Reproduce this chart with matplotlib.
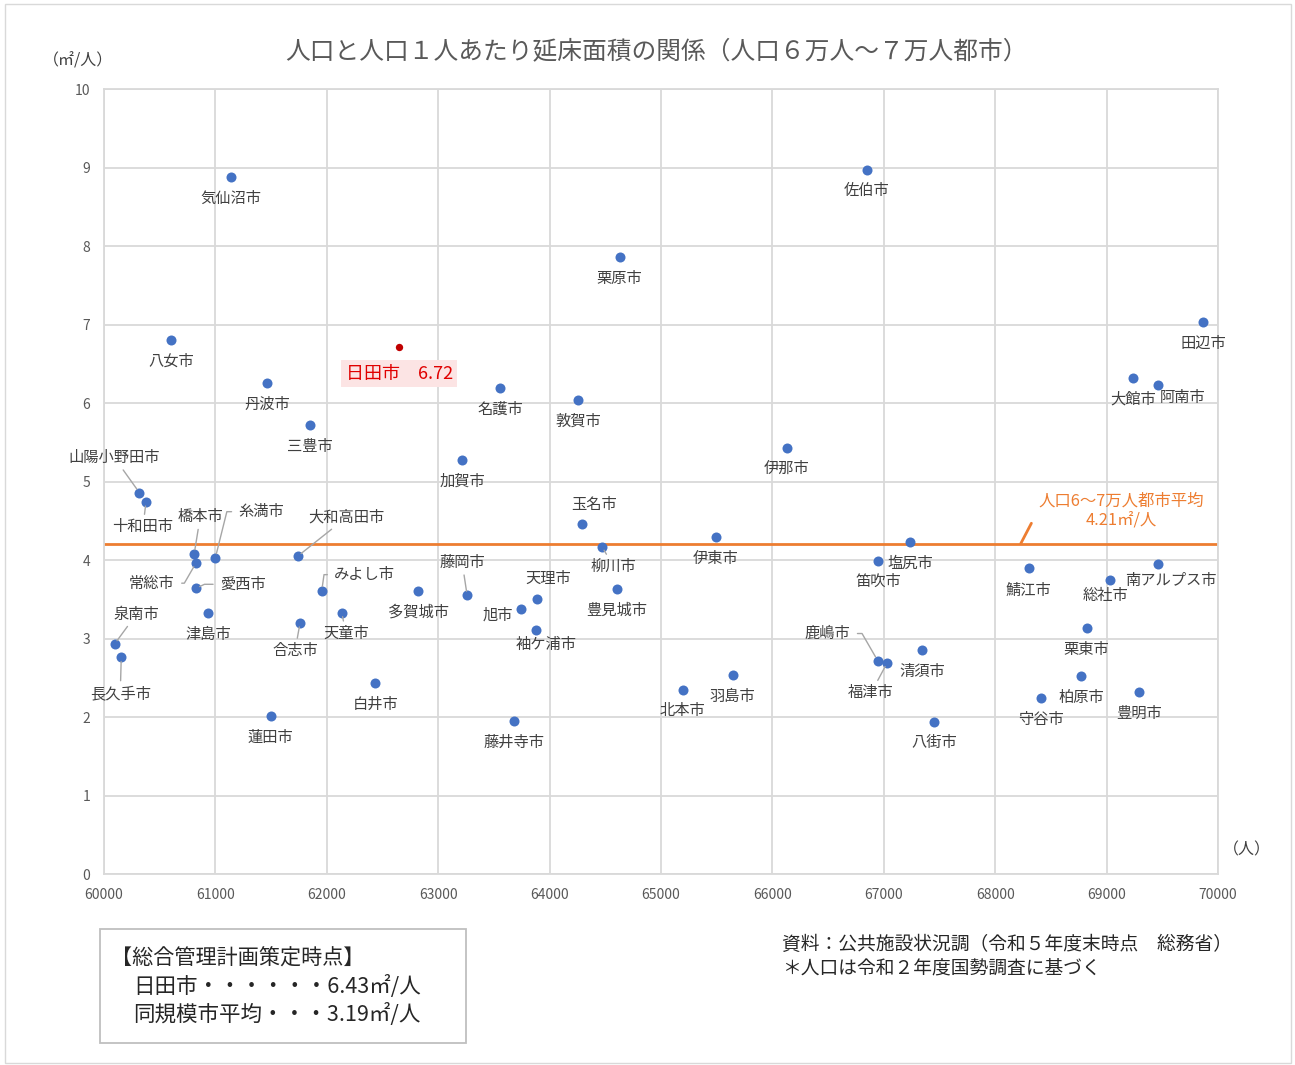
import matplotlib.pyplot as plt
from matplotlib.patches import Rectangle

plt.rcParams['font.family'] = ['Noto Sans CJK JP', 'DejaVu Sans']

# データ（人口, 1人あたり延床面積）
cities = ['気仙沼市', '佐伯市', '栗原市', '田辺市', '八女市', '大館市', '阿南市',
          '丹波市', '名護市', '敦賀市', '三豊市', '伊那市', '加賀市', '山陽小野田市',
          '十和田市', '玉名市', '伊東市', '塩尻市', '柳川市', '橋本市', '糸満市',
          '大和高田市', '常総市', '笛吹市', '鯖江市', '南アルプス市', '総社市', '愛西市',
          'みよし市', '多賀城市', '豊見城市', '藤岡市', '天理市', '旭市', '津島市',
          '天童市', '合志市', '袖ケ浦市', '栗東市', '泉南市', '清須市', '長久手市',
          '鹿嶋市', '福津市', '羽島市', '柏原市', '北本市', '白井市', '豊明市',
          '守谷市', '蓮田市', '藤井寺市', '八街市']
population = [61140, 66850, 64630, 69865, 60600, 69237, 69460,
              61463, 63555, 64255, 61850, 66130, 63215, 60317,
              60377, 64290, 65490, 67240, 64470, 60810, 61000,
              61740, 60825, 66950, 68300, 69460, 69030, 60825,
              61955, 62820, 64605, 63260, 63885, 63745, 60935,
              62135, 61760, 63875, 68820, 60095, 67345, 60155,
              66945, 67030, 65645, 68775, 65195, 62435, 69295,
              68415, 61495, 63685, 67455]
floor_area = [8.88, 8.97, 7.86, 7.03, 6.80, 6.32, 6.23,
              6.25, 6.19, 6.04, 5.72, 5.43, 5.27, 4.86,
              4.74, 4.46, 4.29, 4.23, 4.17, 4.08, 4.03,
              4.05, 3.96, 3.99, 3.90, 3.95, 3.75, 3.64,
              3.61, 3.61, 3.63, 3.55, 3.51, 3.38, 3.32,
              3.33, 3.20, 3.11, 3.13, 2.93, 2.85, 2.76,
              2.72, 2.69, 2.53, 2.52, 2.35, 2.43, 2.32,
              2.24, 2.01, 1.95, 1.94]

hita_pop = 62650
hita_area = 6.72
avg_area = 4.21

x_ticks = [60000, 61000, 62000, 63000, 64000, 65000, 66000, 67000, 68000, 69000, 70000]
y_ticks = [0, 1, 2, 3, 4, 5, 6, 7, 8, 9, 10]

# ラベル位置（ピクセルオフセット）、指定なしは点の下
label_offset = {
    '阿南市': (25, -13), '山陽小野田市': (-25, 35), '十和田市': (-3, -25),
    '玉名市': (12, 19), '柳川市': (12, -20), '橋本市': (6, 37),
    '糸満市': (46, 46), '大和高田市': (49, 39), '常総市': (-44, -20),
    '愛西市': (47, 4), 'みよし市': (43, 16), '藤岡市': (-5, 33),
    '天理市': (11, 20), '旭市': (-23, -6), '天童市': (4, -21),
    '合志市': (-5, -28), '袖ケ浦市': (10, -15), '南アルプス市': (13, -17),
    '総社市': (-4, -16), '泉南市': (22, 30), '長久手市': (-1, -36),
    '鹿嶋市': (-50, 27), '福津市': (-16, -30), '塩尻市': (0, -21),
    '鯖江市': (0, -23),
}
leader = ['山陽小野田市', '十和田市', '橋本市', '大和高田市', '藤岡市', '柳川市',
          '天童市', '合志市', '泉南市', '長久手市', '福津市']
elbow = {'糸満市': 76, '常総市': 60, '愛西市': 25, 'みよし市': 82, '鹿嶋市': -60}

fig = plt.figure(figsize=(12.95, 10.65), dpi=100)
ax = fig.add_axes([0.0803, 0.1793, 0.8602, 0.7371])

grid_c = '#d9d9d9'
ax.set_xlim(60000, 70000)
ax.set_ylim(0, 10)
ax.set_xticks(x_ticks)
ax.set_yticks(y_ticks)
ax.grid(True, color=grid_c, lw=1.3)
ax.set_axisbelow(True)
for s in ax.spines.values():
    s.set_color(grid_c)
    s.set_linewidth(1.3)
ax.tick_params(length=0, labelsize=10, labelcolor='#595959', pad=10)

ax.axhline(avg_area, color='#ED7D31', lw=2, zorder=2)
ax.scatter(population, floor_area, s=52, color='#4472C4', zorder=3, linewidths=0)
ax.scatter([hita_pop], [hita_area], s=28, color='#C00000', zorder=3, linewidths=0)

for name, x, y in zip(cities, population, floor_area):
    dx, dy = label_offset.get(name, (0, -21))
    arrow = None
    if name in leader:
        arrow = dict(arrowstyle='-', color='#a6a6a6', lw=1, shrinkA=1, shrinkB=3)
    elif name in elbow:
        arrow = dict(arrowstyle='-', color='#a6a6a6', lw=1, shrinkA=3, shrinkB=3,
                     connectionstyle=f'angle,angleA=0,angleB={elbow[name]},rad=0')
    ax.annotate(name, (x, y), xytext=(dx, dy), textcoords='offset pixels',
                ha='center', va='center', fontsize=11, color='#404040',
                arrowprops=arrow, zorder=4)

ax.annotate(f'日田市　{hita_area:.2f}', (hita_pop, hita_area), xytext=(0, -27),
            textcoords='offset pixels', ha='center', va='center', fontsize=13,
            color='#E00000', bbox=dict(boxstyle='square,pad=0.25', fc='#FCE4E4', ec='none'))

ax.annotate(f'人口6～7万人都市平均\n{avg_area:.2f}㎡/人', (68230, avg_area),
            xytext=(100, 33), textcoords='offset pixels', ha='center', va='center',
            fontsize=11.8, color='#ED7D31', linespacing=1.1,
            arrowprops=dict(arrowstyle='-', color='#ED7D31', lw=2,
                            relpos=(0, 0.5), shrinkA=6, shrinkB=0))

fig.text(0.507, 0.952, '人口と人口１人あたり延床面積の関係（人口６万人～７万人都市）',
         ha='center', va='center', fontsize=17.8, color='#595959')
fig.text(0.06, 0.943, '（㎡/人）', ha='center', va='center', fontsize=11.5, color='#404040')
fig.text(0.963, 0.202, '（人）', ha='center', va='center', fontsize=11.5, color='#404040')

# 左下の枠
fig.patches.append(Rectangle((0.077, 0.021), 0.283, 0.107, transform=fig.transFigure,
                             fill=False, ec='#bfbfbf', lw=1.3))
fig.text(0.086, 0.100, '【総合管理計画策定時点】', ha='left', va='center', fontsize=15.2, color='#262626')
fig.text(0.103, 0.074, '日田市・・・・・・6.43㎡/人', ha='left', va='center', fontsize=15.5, color='#262626')
fig.text(0.103, 0.047, '同規模市平均・・・3.19㎡/人', ha='left', va='center', fontsize=15.5, color='#262626')

fig.text(0.604, 0.113, '資料：公共施設状況調（令和５年度末時点　総務省）', ha='left', va='center',
         fontsize=13.5, color='#262626')
fig.text(0.604, 0.091, '＊人口は令和２年度国勢調査に基づく', ha='left', va='center',
         fontsize=13.5, color='#262626')

# 外枠
fig.patches.append(Rectangle((0.004, 0.002), 0.993, 0.994, transform=fig.transFigure,
                             fill=False, ec='#d9d9d9', lw=1))

fig.savefig('out.png', dpi=100)
